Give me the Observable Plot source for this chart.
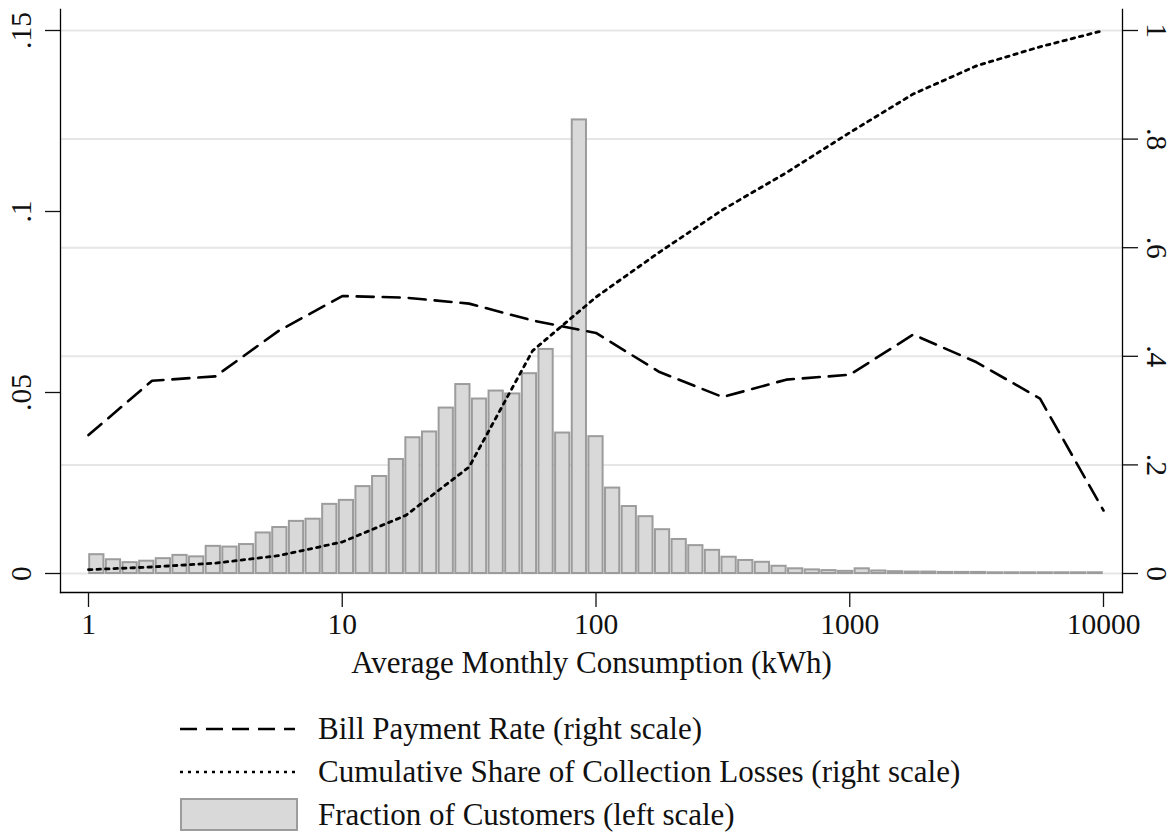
<!DOCTYPE html>
<html>
<head>
<meta charset="utf-8">
<script src="https://cdn.jsdelivr.net/npm/d3@7"></script>
<script src="https://cdn.jsdelivr.net/npm/@observablehq/plot@0.6"></script>
<style>
  body { margin: 0; background: #fff; font-family: "Liberation Serif", "Times New Roman", serif; }
  #wrap { width: 1175px; }
  #wrap svg { overflow: visible; }
  .legend { margin-top: 27px; }
  .row { display: flex; align-items: center; height: 43px; }
  .row svg { margin-left: 180px; width: 120px; height: 36px; }
  .row span { margin-left: 18px; font-size: 31px; color: #111; }
</style>
</head>
<body>
<div id="wrap"></div>
<script>
// ---------- data ----------
// Histogram: fraction of customers in 61 equal-width log bins from 1 to 10000 kWh (left scale)
const binCount = 61;
const fractionCustomers = [
  0.0052, 0.0038, 0.0030, 0.0034, 0.0041, 0.0050, 0.0046, 0.0075, 0.0073, 0.0080,
  0.0112, 0.0127, 0.0144, 0.0150, 0.0191, 0.0202, 0.0240, 0.0268, 0.0315, 0.0375,
  0.0391, 0.0457, 0.0522, 0.0482, 0.0504, 0.0496, 0.0552, 0.0619, 0.0388, 0.1253,
  0.0378, 0.0236, 0.0185, 0.0157, 0.0121, 0.0094, 0.0077, 0.0064, 0.0045, 0.0036,
  0.0031, 0.0020, 0.0013, 0.0010, 0.0008, 0.0006, 0.0013, 0.0007, 0.0005, 0.0004,
  0.0004, 0.0003, 0.0003, 0.0003, 0.0002, 0.0002, 0.0002, 0.0002, 0.0002, 0.0002, 0.0002
];
// Lines evaluated at quarter-decade consumption points (right scale)
const consumption = [1, 1.78, 3.16, 5.62, 10, 17.8, 31.6, 56.2, 100, 178, 316, 562, 1000, 1778, 3162, 5623, 10000];
const billPaymentRate = [0.255, 0.355, 0.363, 0.447, 0.511, 0.508, 0.497, 0.466, 0.443, 0.371, 0.325, 0.357, 0.366, 0.440, 0.389, 0.322, 0.116];
const cumulativeLosses = [0.007, 0.012, 0.019, 0.033, 0.058, 0.107, 0.196, 0.410, 0.509, 0.592, 0.670, 0.738, 0.812, 0.883, 0.935, 0.970, 1.000];

const xTicks = [1, 10, 100, 1000, 10000];
const leftTicks = [0, 0.05, 0.1, 0.15];
const rightTicks = [0, 0.2, 0.4, 0.6, 0.8, 1];
const rightToLeft = 0.15; // right scale 0..1 maps onto left scale 0..0.15

// ---------- build tables ----------
const bars = fractionCustomers.map((f, k) => ({
  x1: Math.pow(10, 4 * k / binCount),
  x2: Math.pow(10, 4 * (k + 1) / binCount),
  frac: f
}));
const lines = consumption.map((c, i) => ({
  c,
  pay: billPaymentRate[i] * rightToLeft,
  cum: cumulativeLosses[i] * rightToLeft
}));
const stripZero = v => {
  const s = String(Math.round(v * 100) / 100);
  return s.replace(/^0\./, ".");
};

const font = "Liberation Serif, Times New Roman, serif";

const chart = Plot.plot({
  width: 1175,
  height: 680,
  marginLeft: 60,
  marginRight: 53,
  marginTop: 9,
  marginBottom: 88,
  style: { fontFamily: font, fontSize: "29px", color: "#111", background: "#fff", overflow: "visible" },
  x: { type: "log", domain: [1, 10000], range: [88, 1103] },
  y: { domain: [0, 0.15], range: [573, 30] },
  marks: [
    Plot.gridY(rightTicks.map(v => v * rightToLeft), { stroke: "#e6e6e6", strokeOpacity: 1, strokeWidth: 2 }),
    Plot.rectY(bars, {
      x1: "x1", x2: "x2", y: "frac",
      fill: "#d9d9d9", stroke: "#9c9c9c", strokeWidth: 2,
      insetLeft: 1.2, insetRight: 1.2
    }),
    Plot.line(lines, { x: "c", y: "pay", stroke: "#000", strokeWidth: 2.6, strokeDasharray: "17,9" }),
    Plot.line(lines, { x: "c", y: "cum", stroke: "#000", strokeWidth: 2.8, strokeDasharray: "3.5,5" }),
    Plot.frame({ anchor: "left", stroke: "#000", strokeWidth: 1.3 }),
    Plot.frame({ anchor: "right", stroke: "#000", strokeWidth: 1.3 }),
    Plot.frame({ anchor: "bottom", stroke: "#000", strokeWidth: 1.3 }),
    Plot.axisX({
      ticks: xTicks, tickFormat: d => String(d), tickSize: 15, tickPadding: 6,
      label: null, fontSize: 29.5, strokeWidth: 1.3
    }),
    Plot.axisY({
      anchor: "left", ticks: leftTicks, tickFormat: stripZero, tickSize: 15, tickPadding: 15,
      tickRotate: -90, label: null, fontSize: 29.5, strokeWidth: 1.3
    }),
    Plot.axisY({
      anchor: "right", ticks: rightTicks.map(v => v * rightToLeft),
      tickFormat: d => stripZero(d / rightToLeft), tickSize: 15, tickPadding: 30,
      tickRotate: 90, label: null, fontSize: 29.5, strokeWidth: 1.3
    }),
    Plot.text(["Average Monthly Consumption (kWh)"], {
      frameAnchor: "bottom", dy: 80, lineAnchor: "bottom", fontSize: 31, fill: "#111"
    })
  ]
});

const wrap = document.getElementById("wrap");
wrap.appendChild(chart);

// ---------- legend ----------
const legendItems = [
  { label: "Bill Payment Rate (right scale)", kind: "dash" },
  { label: "Cumulative Share of Collection Losses (right scale)", kind: "dot" },
  { label: "Fraction of Customers (left scale)", kind: "box" }
];
const legend = document.createElement("div");
legend.className = "legend";
for (const item of legendItems) {
  const row = document.createElement("div");
  row.className = "row";
  let sw;
  if (item.kind === "dash") {
    sw = `<svg viewBox="0 0 120 36"><line x1="0" x2="115" y1="18" y2="18" stroke="#000" stroke-width="2.6" stroke-dasharray="17,9"/></svg>`;
  } else if (item.kind === "dot") {
    sw = `<svg viewBox="0 0 120 36"><line x1="0" x2="115" y1="18" y2="18" stroke="#000" stroke-width="2.6" stroke-dasharray="3,5"/></svg>`;
  } else {
    sw = `<svg viewBox="0 0 120 36"><rect x="1" y="2" width="116" height="31" fill="#d9d9d9" stroke="#9c9c9c" stroke-width="2"/></svg>`;
  }
  row.innerHTML = sw + `<span>${item.label}</span>`;
  legend.appendChild(row);
}
wrap.appendChild(legend);
</script>
</body>
</html>
